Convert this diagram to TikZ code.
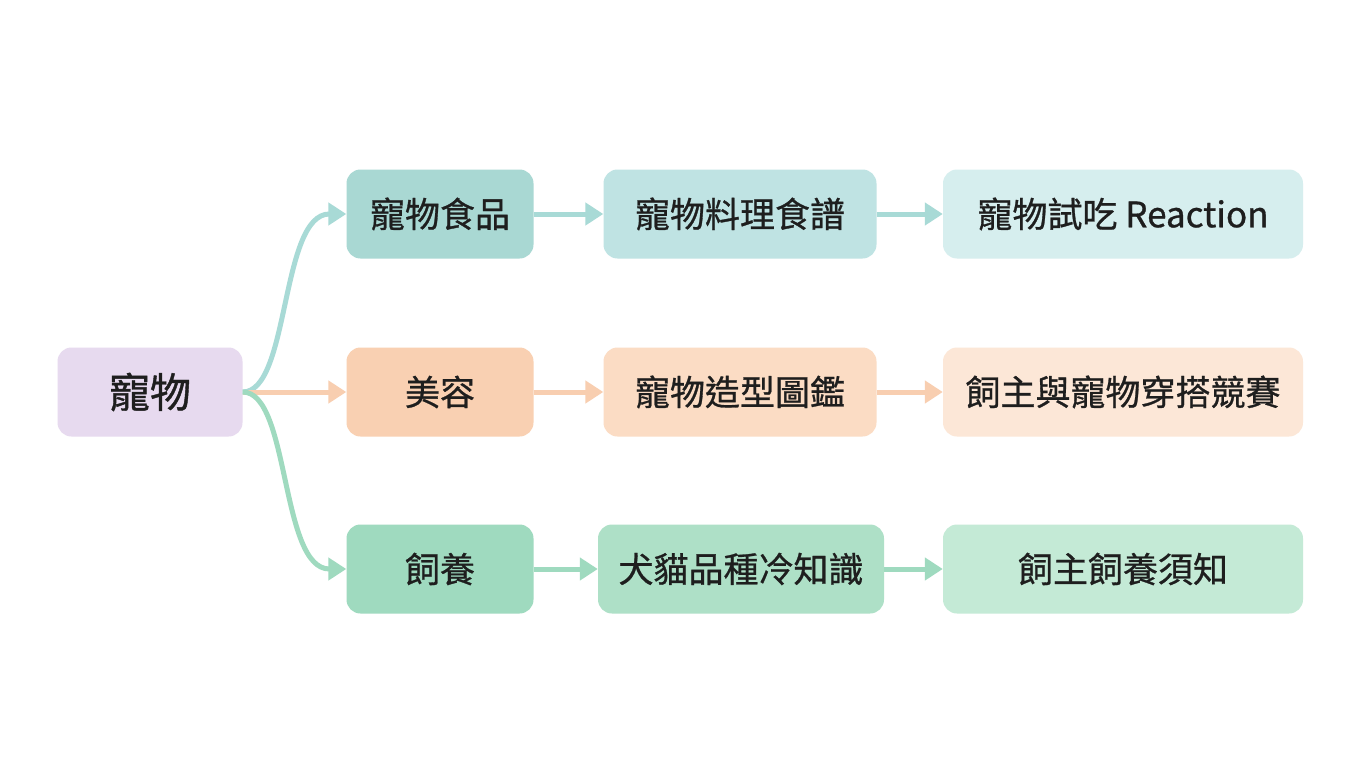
\documentclass[tikz,border=0pt]{standalone}
\usepackage{fontspec}
\setmainfont{Noto Sans CJK TC}
\usetikzlibrary{arrows.meta}
\definecolor{root}{HTML}{E7DAEF}
\definecolor{a1}{HTML}{A9D8D3}\definecolor{b1}{HTML}{BFE3E3}\definecolor{c1}{HTML}{D6EEEE}
\definecolor{a2}{HTML}{F9D0B2}\definecolor{b2}{HTML}{FBDCC4}\definecolor{c2}{HTML}{FCE7D7}
\definecolor{a3}{HTML}{9FDABF}\definecolor{b3}{HTML}{AEE0C7}\definecolor{c3}{HTML}{C4EAD6}
\definecolor{l1}{HTML}{A8DAD6}\definecolor{l2}{HTML}{F8CEB0}\definecolor{l3}{HTML}{9FDABF}
\definecolor{txt}{HTML}{1E1E1E}
\tikzset{box/.style={rounded corners=14pt,inner sep=0pt,text=txt,font=\fontsize{35}{40}\selectfont\addfontfeatures{FakeBold=0.8},minimum height=89pt},
arr/.style={line width=5pt,-{Triangle[length=18pt,width=22pt]}}}
\begin{document}
\begin{tikzpicture}[x=1pt,y=-1pt]
\useasboundingbox[fill=white] (0,0) rectangle (1360,784);
\node[box,fill=root,minimum width=185pt,font=\fontsize{41}{46}\selectfont\addfontfeatures{FakeBold=1}] (r) at (150,392) {寵物};
\node[box,fill=a1,minimum width=187pt] (a1) at (440,214) {寵物食品};
\node[box,fill=b1,minimum width=273pt] (b1) at (740,214) {寵物料理食譜};
\node[box,fill=c1,minimum width=360pt] (c1) at (1123,214) {寵物試吃 Reaction};
\node[box,fill=a2,minimum width=187pt] (a2) at (440,392) {美容};
\node[box,fill=b2,minimum width=273pt] (b2) at (740,392) {寵物造型圖鑑};
\node[box,fill=c2,minimum width=360pt] (c2) at (1123,392) {飼主與寵物穿搭競賽};
\node[box,fill=a3,minimum width=187pt] (a3) at (440,569) {飼養};
\node[box,fill=b3,minimum width=286pt] (b3) at (741,569) {犬貓品種冷知識};
\node[box,fill=c3,minimum width=360pt] (c3) at (1123,569) {飼主飼養須知};
\draw[arr,l1] (r.east) .. controls (290,392) and (280,214) .. (a1.west);
\draw[arr,l2] (r.east) -- (a2.west);
\draw[arr,l3] (r.east) .. controls (290,392) and (280,569) .. (a3.west);
\draw[arr,l1] (a1) -- (b1); \draw[arr,l1] (b1) -- (c1);
\draw[arr,l2] (a2) -- (b2); \draw[arr,l2] (b2) -- (c2);
\draw[arr,l3] (a3) -- (b3); \draw[arr,l3] (b3) -- (c3);
\end{tikzpicture}
\end{document}
